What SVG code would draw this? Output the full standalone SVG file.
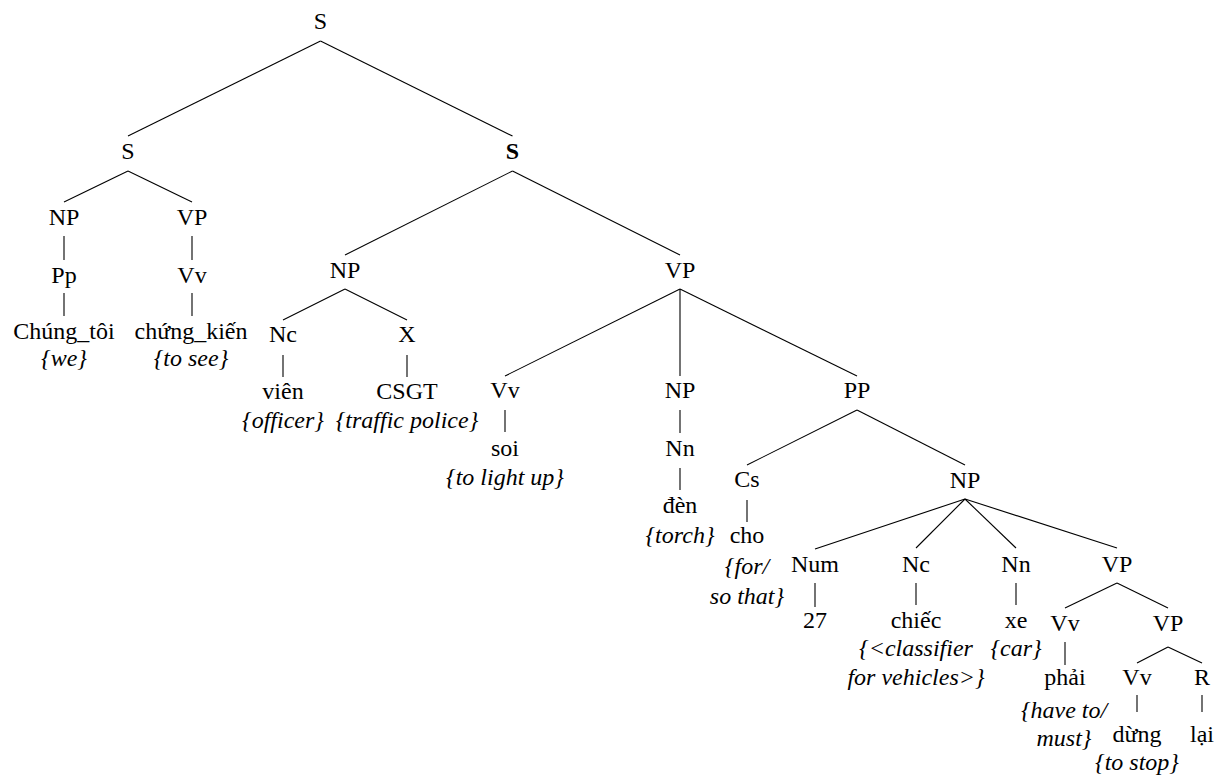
<svg xmlns="http://www.w3.org/2000/svg" width="1223" height="780" viewBox="0 0 1223 780" font-family="Liberation Serif, serif" font-size="24">
<style>
text{fill:#000;text-anchor:middle}
.g{font-style:italic}
.b{font-weight:bold}
#edges line{stroke:#000;stroke-width:1.1}
</style>
<rect width="1223" height="780" fill="#fff"/>
<g id="edges">
<line x1="320.5" y1="41" x2="128" y2="136"/>
<line x1="320.5" y1="41" x2="512.5" y2="136"/>
<line x1="128" y1="171" x2="64" y2="202"/>
<line x1="128" y1="171" x2="192" y2="202"/>
<line x1="64" y1="236" x2="64" y2="260"/>
<line x1="192" y1="236" x2="192" y2="260"/>
<line x1="64" y1="293" x2="64" y2="316"/>
<line x1="192" y1="293" x2="192" y2="316"/>
<line x1="512.5" y1="171" x2="345" y2="255"/>
<line x1="512.5" y1="171" x2="680" y2="255"/>
<line x1="345" y1="289" x2="283" y2="320"/>
<line x1="345" y1="289" x2="407" y2="320"/>
<line x1="283" y1="355" x2="283" y2="377"/>
<line x1="407" y1="355" x2="407" y2="377"/>
<line x1="680" y1="289" x2="505" y2="376"/>
<line x1="680" y1="289" x2="680" y2="376"/>
<line x1="680" y1="289" x2="857" y2="376"/>
<line x1="505" y1="410" x2="505" y2="432"/>
<line x1="680" y1="410" x2="680" y2="433"/>
<line x1="680" y1="468" x2="680" y2="490"/>
<line x1="857" y1="410" x2="747" y2="465"/>
<line x1="857" y1="410" x2="965" y2="465"/>
<line x1="747" y1="500" x2="747" y2="522"/>
<line x1="965" y1="499" x2="815" y2="549"/>
<line x1="965" y1="499" x2="916" y2="548"/>
<line x1="965" y1="499" x2="1016" y2="548"/>
<line x1="965" y1="499" x2="1117" y2="548"/>
<line x1="815" y1="583" x2="815" y2="607"/>
<line x1="916" y1="583" x2="916" y2="605"/>
<line x1="1016" y1="583" x2="1016" y2="605"/>
<line x1="1117" y1="583" x2="1065" y2="608"/>
<line x1="1117" y1="583" x2="1168" y2="608"/>
<line x1="1065" y1="642" x2="1065" y2="665"/>
<line x1="1168" y1="647" x2="1137" y2="663"/>
<line x1="1168" y1="647" x2="1202" y2="663"/>
<line x1="1137" y1="695" x2="1137" y2="712"/>
<line x1="1202" y1="695" x2="1202" y2="712"/>
</g>
<g id="n-S-root"><text x="320.5" y="29">S</text></g>
<g id="n-S-left"><text x="128" y="159">S</text></g>
<g id="n-S-right"><text class="b" x="512.5" y="159">S</text></g>
<g id="n-NP1"><text x="64" y="225">NP</text></g>
<g id="n-VP1"><text x="192" y="225">VP</text></g>
<g id="n-Pp"><text x="64" y="283">Pp</text></g>
<g id="n-Vv1"><text x="192" y="283">Vv</text></g>
<g id="n-chungtoi"><text x="64" y="339">Chúng_tôi</text><text class="g" x="64" y="366">{we}</text></g>
<g id="n-chungkien"><text x="191" y="339">chứng_kiến</text><text class="g" x="191" y="366">{to see}</text></g>
<g id="n-NP2"><text x="345" y="278">NP</text></g>
<g id="n-VP2"><text x="680" y="278">VP</text></g>
<g id="n-Nc1"><text x="283" y="342">Nc</text></g>
<g id="n-X"><text x="407" y="342">X</text></g>
<g id="n-vien"><text x="283" y="399">viên</text><text class="g" x="283" y="428">{officer}</text></g>
<g id="n-CSGT"><text x="407" y="399">CSGT</text><text class="g" x="407" y="428">{traffic police}</text></g>
<g id="n-Vv2"><text x="505" y="398">Vv</text></g>
<g id="n-soi"><text x="505" y="456">soi</text><text class="g" x="505" y="485">{to light up}</text></g>
<g id="n-NP3"><text x="680" y="398">NP</text></g>
<g id="n-Nn1"><text x="680" y="456">Nn</text></g>
<g id="n-den"><text x="680" y="513">đèn</text><text class="g" x="680" y="543">{torch}</text></g>
<g id="n-PP"><text x="857" y="398">PP</text></g>
<g id="n-Cs"><text x="747" y="487">Cs</text></g>
<g id="n-cho"><text x="747" y="543">cho</text><text class="g" x="747" y="574">{for/</text><text class="g" x="747" y="604">so that}</text></g>
<g id="n-NP4"><text x="965" y="488">NP</text></g>
<g id="n-Num"><text x="815" y="572">Num</text></g>
<g id="n-27"><text x="815" y="628">27</text></g>
<g id="n-Nc2"><text x="916" y="572">Nc</text></g>
<g id="n-chiec"><text x="916" y="628">chiếc</text><text class="g" x="916" y="656">{&lt;classifier</text><text class="g" x="916" y="685">for vehicles&gt;}</text></g>
<g id="n-Nn2"><text x="1016" y="572">Nn</text></g>
<g id="n-xe"><text x="1016" y="628">xe</text><text class="g" x="1016" y="656">{car}</text></g>
<g id="n-VP3"><text x="1117" y="572">VP</text></g>
<g id="n-Vv3"><text x="1065" y="631">Vv</text></g>
<g id="n-phai"><text x="1065" y="685">phải</text><text class="g" x="1064" y="718">{have to/</text><text class="g" x="1064" y="746">must}</text></g>
<g id="n-VP4"><text x="1168" y="631">VP</text></g>
<g id="n-Vv4"><text x="1137" y="685">Vv</text></g>
<g id="n-dung"><text x="1137" y="742">dừng</text><text class="g" x="1137" y="770">{to stop}</text></g>
<g id="n-R"><text x="1202" y="685">R</text></g>
<g id="n-lai"><text x="1202" y="742">lại</text></g>
</svg>
